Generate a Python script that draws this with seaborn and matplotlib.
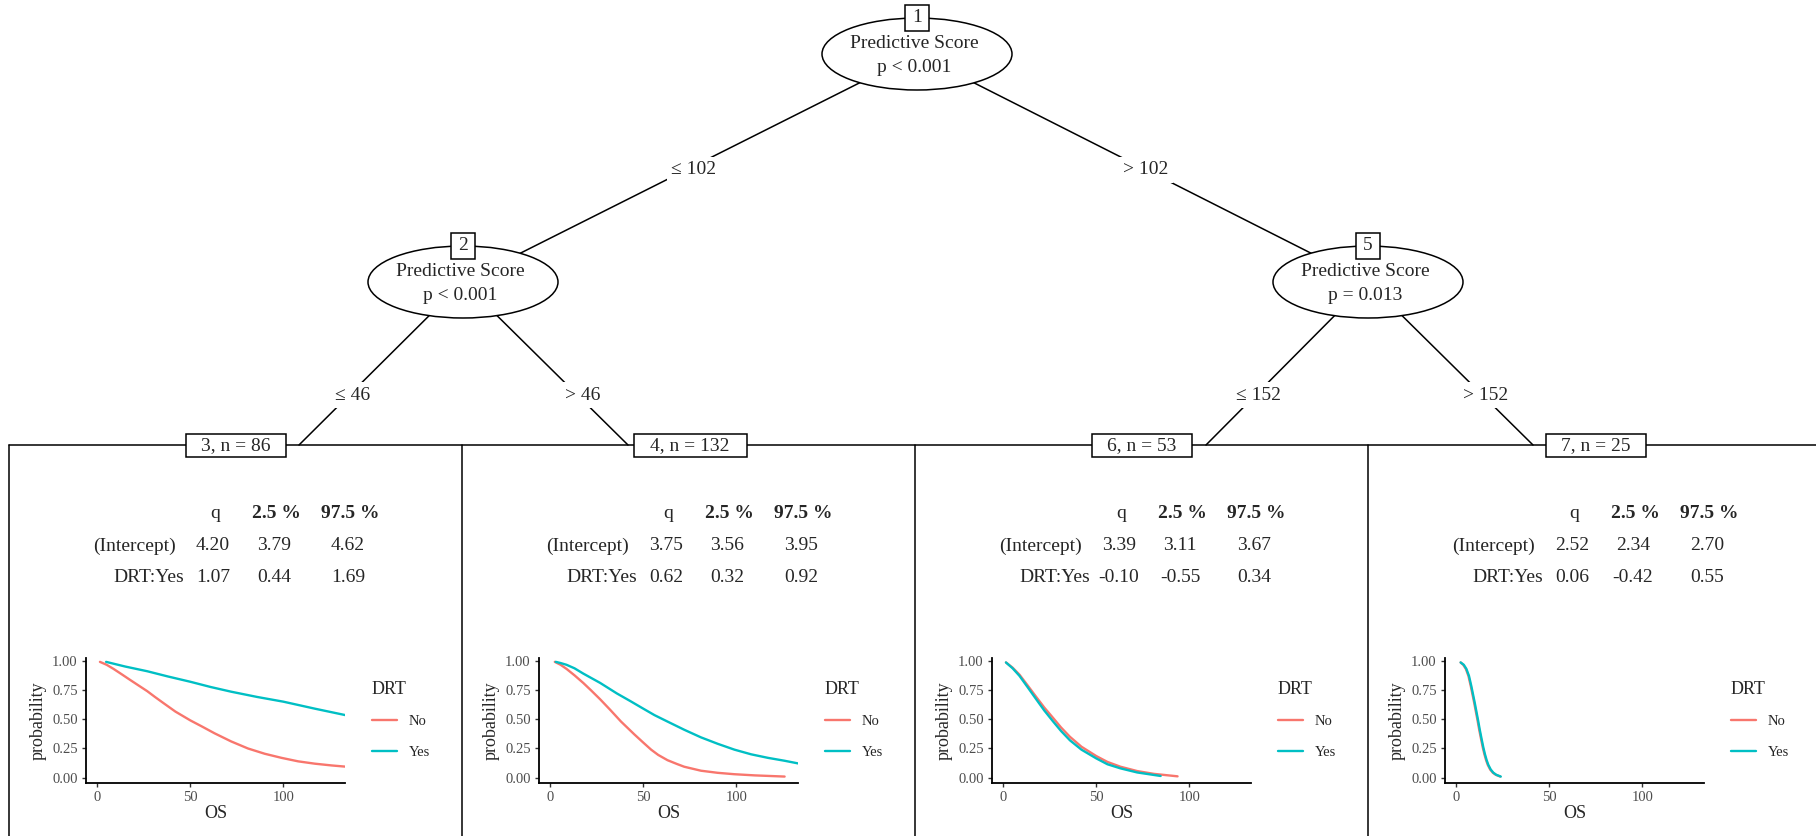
import pandas as pd
import matplotlib
matplotlib.use("Agg")
import matplotlib.pyplot as plt
from matplotlib.patches import Ellipse, Rectangle
import seaborn as sns

# inner nodes of the tree
node_ids = ["1", "2", "5"]
node_vars = ["Predictive Score", "Predictive Score", "Predictive Score"]
node_pvals = ["p < 0.001", "p < 0.001", "p = 0.013"]
edge_labels = ["≤ 102", "> 102", "≤ 46", "> 46", "≤ 152", "> 152"]

# terminal nodes
leaf_ids = [3, 4, 6, 7]
leaf_n = [86, 132, 53, 25]
col_names = ["q", "2.5 %", "97.5 %"]
coef_names = ["(Intercept)", "DRT:Yes"]
intercept_vals = [["4.20", "3.79", "4.62"], ["3.75", "3.56", "3.95"],
                  ["3.39", "3.11", "3.67"], ["2.52", "2.34", "2.70"]]
drt_vals = [["1.07", "0.44", "1.69"], ["0.62", "0.32", "0.92"],
            ["-0.10", "-0.55", "0.34"], ["0.06", "-0.42", "0.55"]]

# predicted survival curves
os_no_3 = [1.4, 5, 8.7, 13, 17.7, 22, 26.8, 31, 35.8, 42, 50, 56, 63, 72, 81, 90, 99, 108, 117, 126, 134]
pr_no_3 = [0.99, 0.965, 0.93, 0.885, 0.835, 0.79, 0.74, 0.69, 0.635, 0.565, 0.49, 0.44, 0.38,
           0.31, 0.25, 0.205, 0.17, 0.14, 0.12, 0.105, 0.094]
os_yes_3 = [4.7, 15, 26.8, 38, 50, 61, 72, 86, 100, 117, 134]
pr_yes_3 = [0.99, 0.95, 0.91, 0.865, 0.82, 0.775, 0.735, 0.69, 0.65, 0.59, 0.533]

os_no_4 = [2.4, 5.5, 8.7, 13, 17.7, 22, 26.8, 32.2, 38, 45.2, 50, 54.2, 58, 63, 68, 72, 81, 90, 99, 110, 126]
pr_no_4 = [0.99, 0.965, 0.93, 0.875, 0.81, 0.745, 0.67, 0.58, 0.48, 0.37, 0.30, 0.24, 0.195,
           0.15, 0.118, 0.094, 0.06, 0.042, 0.03, 0.02, 0.01]
os_yes_4 = [2.9, 5.5, 8.7, 13, 17.7, 26.8, 35.8, 43, 50, 56, 63, 72, 81, 90, 99, 108, 117, 126, 134]
pr_yes_4 = [0.99, 0.98, 0.965, 0.935, 0.89, 0.81, 0.72, 0.655, 0.59, 0.535, 0.48, 0.41, 0.345,
            0.29, 0.24, 0.2, 0.17, 0.145, 0.12]

os_no_6 = [1.4, 5, 8.7, 13, 17.7, 22, 26.8, 31, 35.8, 42, 50, 56, 63, 72, 81, 93.7]
pr_no_6 = [0.985, 0.94, 0.88, 0.79, 0.69, 0.6, 0.51, 0.43, 0.35, 0.265, 0.185, 0.135, 0.094,
           0.057, 0.033, 0.012]
os_yes_6 = [1.4, 5, 8.7, 13, 17.7, 22, 26.8, 31, 35.8, 42, 50, 56, 63, 72, 84.6]
pr_yes_6 = [0.985, 0.935, 0.87, 0.775, 0.67, 0.575, 0.48, 0.40, 0.32, 0.24, 0.165, 0.115, 0.08,
            0.045, 0.015]

os_no_7 = [2.3, 3.7, 5.1, 6.5, 7.8, 8.7, 9.6, 10.5, 11.4, 12.3, 13.3, 14.2, 15.1, 16.0, 16.9,
           18.2, 19.6, 21.2, 23.6]
pr_no_7 = [0.985, 0.965, 0.93, 0.87, 0.78, 0.71, 0.64, 0.565, 0.49, 0.41, 0.33, 0.26, 0.2, 0.15,
           0.11, 0.07, 0.043, 0.025, 0.01]
os_yes_7 = [2.3, 4.0, 5.4, 6.8, 8.1, 9.0, 9.9, 10.8, 11.7, 12.6, 13.6, 14.5, 15.4, 16.3, 17.2,
            18.5, 19.9, 21.5, 23.9]
pr_yes_7 = [0.985, 0.965, 0.93, 0.87, 0.78, 0.71, 0.64, 0.565, 0.49, 0.41, 0.33, 0.26, 0.2, 0.15,
            0.11, 0.07, 0.043, 0.025, 0.01]

x_ticks = [0, 50, 100]
y_ticks = [0.0, 0.25, 0.5, 0.75, 1.0]
y_tick_labels = ["0.00", "0.25", "0.50", "0.75", "1.00"]

curves = {
    3: [(os_no_3, pr_no_3), (os_yes_3, pr_yes_3)],
    4: [(os_no_4, pr_no_4), (os_yes_4, pr_yes_4)],
    6: [(os_no_6, pr_no_6), (os_yes_6, pr_yes_6)],
    7: [(os_no_7, pr_no_7), (os_yes_7, pr_yes_7)],
}
rows = []
for leaf, (no, yes) in curves.items():
    for grp, (xs, ys) in zip(["No", "Yes"], [no, yes]):
        for x, y in zip(xs, ys):
            rows.append({"leaf": leaf, "DRT": grp, "OS": x, "probability": y})
df = pd.DataFrame(rows)

sns.set_style("ticks")
plt.rcParams["font.family"] = ["Liberation Serif", "DejaVu Serif"]

W, H = 1816, 836
fig = plt.figure(figsize=(W / 100, H / 100), dpi=100)
tree = fig.add_axes([0, 0, 1, 1])
tree.set_xlim(0, W)
tree.set_ylim(H, 0)
tree.axis("off")

lw = 1.1
fs = 14
centers = [(917, 54), (463, 282), (1368, 282)]
leaf_y = 445
edge_ends = [(299, leaf_y), (628, leaf_y), (1206, leaf_y), (1533, leaf_y)]
edges = [(centers[0], centers[1]), (centers[0], centers[2]),
         (centers[1], edge_ends[0]), (centers[1], edge_ends[1]),
         (centers[2], edge_ends[2]), (centers[2], edge_ends[3])]
edge_lab_pos = [(694, 170), (1146, 170), (353, 395), (583, 395), (1259, 395), (1486, 395)]

for (a, b), lab, (lx, ly) in zip(edges, edge_labels, edge_lab_pos):
    tree.plot([a[0], b[0]], [a[1], b[1]], color="black", lw=lw, zorder=1)
    tree.text(lx, ly, lab, ha="center", va="center", fontsize=fs, zorder=4,
              bbox=dict(fc="white", ec="none", pad=3))

# inner node ellipses
for (cx, cy), nid, var, pv in zip(centers, node_ids, node_vars, node_pvals):
    tree.add_patch(Ellipse((cx, cy), 190, 72, fc="white", ec="black", lw=lw, zorder=2))
    tree.text(cx - 3, cy - 10, var, ha="center", va="center", fontsize=fs, zorder=4)
    tree.text(cx - 3, cy + 13, pv, ha="center", va="center", fontsize=fs, zorder=4)
    tree.add_patch(Rectangle((cx - 12, cy - 36 - 13), 24, 26, fc="white", ec="black", lw=lw, zorder=3))
    tree.text(cx, cy - 36, nid, ha="center", va="center", fontsize=fs, zorder=4)

# terminal panels
panel_left = [9, 462, 915, 1368]
label_cx = [236, 690, 1142, 1596]
label_w = [100, 113, 100, 100]
tree.plot([panel_left[0], W], [leaf_y, leaf_y], color="black", lw=lw, zorder=1)
for L in panel_left:
    tree.plot([L, L], [leaf_y, H], color="black", lw=lw, zorder=1)

palette = {"No": "#F8766D", "Yes": "#00BFC4"}
for i, leaf in enumerate(leaf_ids):
    L = panel_left[i]
    cx = label_cx[i]
    tree.add_patch(Rectangle((cx - label_w[i] / 2, leaf_y - 11.5), label_w[i], 23,
                             fc="white", ec="black", lw=lw, zorder=3))
    tree.text(cx, leaf_y + 1, f"{leaf}, n = {leaf_n[i]}", ha="center", va="center",
              fontsize=fs, zorder=4)

    # coefficient table
    col_x = [L + 206, L + 267, L + 341]
    for j, (c, x) in enumerate(zip(col_names, col_x)):
        tree.text(x, 514, c, ha="center", va="center", fontsize=fs,
                  fontweight="normal" if j == 0 else "bold")
    for r, (name, vals, y) in enumerate(zip(coef_names, [intercept_vals[i], drt_vals[i]], [546, 577])):
        tree.text(L + (167 if r == 0 else 175), y, name, ha="right", va="center", fontsize=fs)
        for v, x in zip(vals, col_x):
            tree.text(x - 2, y, v, ha="center", va="center", fontsize=fs)

    # survival plot
    ax = fig.add_axes([(L + 77) / W, 1 - 783 / H, 259 / W, 125 / H])
    sub = df[df["leaf"] == leaf]
    sns.lineplot(data=sub, x="OS", y="probability", hue="DRT", palette=palette,
                 hue_order=["No", "Yes"], estimator=None, sort=False, lw=1.7, ax=ax)
    ax.set_xlim(-6.1, 133.2)
    ax.set_ylim(-0.045, 1.023)
    ax.set_xticks(x_ticks)
    ax.set_yticks(y_ticks)
    ax.set_yticklabels(y_tick_labels)
    sns.despine(ax=ax)
    for s in ["left", "bottom"]:
        ax.spines[s].set_linewidth(1.3)
        ax.spines[s].set_color("black")
    ax.tick_params(labelsize=10.5, colors="#333333", labelcolor="#4D4D4D",
                   length=3, width=1, pad=3)
    ax.set_xlabel("OS", fontsize=13)
    ax.set_ylabel("probability", fontsize=13)
    ax.xaxis.set_label_coords(0.5, -0.18)
    ax.yaxis.set_label_coords(-0.15, 0.5)
    ax.patch.set_alpha(0)
    sns.move_legend(ax, "upper left", bbox_to_anchor=(1.104, 0.82), frameon=False,
                    title="DRT", fontsize=10.5, title_fontsize=13, borderpad=0,
                    borderaxespad=0, handlelength=1.7, handletextpad=0.8,
                    labelspacing=1.2, alignment="left")

fig.savefig("out.png", dpi=100)
